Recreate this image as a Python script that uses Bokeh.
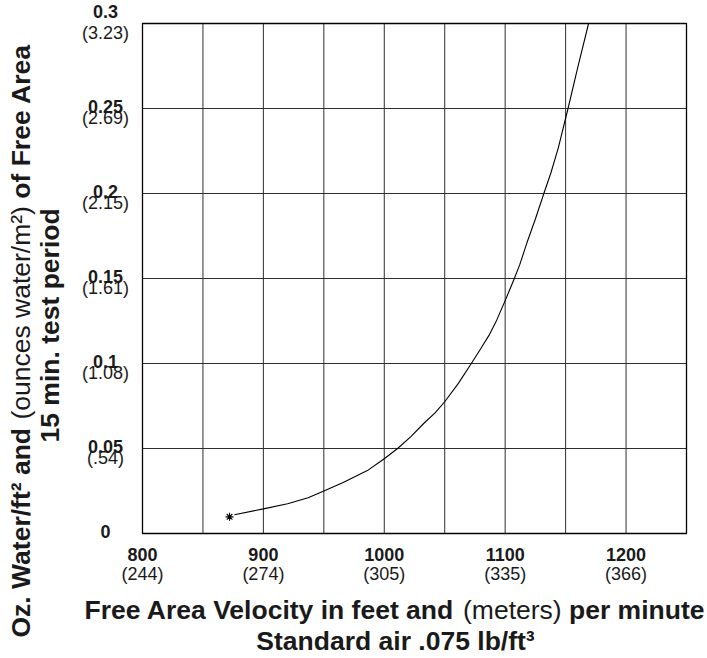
import math
from bokeh.plotting import figure
from bokeh.models import Range1d
from bokeh.core.properties import value
from bokeh.embed import file_html
from bokeh.resources import INLINE

# ---------------- data ----------------
velocity = [876, 900, 920, 937, 950, 966, 986, 1000, 1011, 1022, 1033, 1042, 1050,
            1061, 1072, 1080, 1087, 1093, 1100, 1107, 1112, 1118, 1125, 1132, 1138,
            1144, 1152, 1160, 1169]
water = [0.011, 0.0145, 0.0175, 0.021, 0.025, 0.030, 0.037, 0.044, 0.050, 0.057,
         0.065, 0.071, 0.0775, 0.088, 0.100, 0.109, 0.117, 0.1255, 0.137, 0.149,
         0.158, 0.171, 0.185, 0.200, 0.2125, 0.227, 0.250, 0.274, 0.300]
start_velocity = [872]
start_water = [0.0098]

x_ticks = [800, 900, 1000, 1100, 1200]
x_tick_labels = ["800", "900", "1000", "1100", "1200"]
x_tick_metric = ["(244)", "(274)", "(305)", "(335)", "(366)"]
x_grid = [850, 900, 950, 1000, 1050, 1100, 1150, 1200]
y_ticks = [0, 0.05, 0.1, 0.15, 0.2, 0.25, 0.3]
y_tick_labels = ["0", "0.05", "0.1", "0.15", "0.2", "0.25", "0.3"]
y_tick_metric = ["", "(.54)", "(1.08)", "(1.61)", "(2.15)", "(2.69)", "(3.23)"]

X_MIN, X_MAX = 800, 1250
Y_MIN, Y_MAX = 0.0, 0.3

# ---------------- layout / style ----------------
FONT = "Liberation Sans"
INK = "#1a1a1a"
GRID = "#2e2e2e"
W, H = 707, 658
PX_L, PX_R, PX_T, PX_B = 142, 686, 23, 533      # chart box in canvas pixels
TICK_PX = 18
TITLE_PX = 26.5
BASE_SHIFT = 0.3465   # em distance between the glyph anchor and the text baseline

kx = (PX_R - PX_L) / (X_MAX - X_MIN)
ky = (PX_B - PX_T) / (Y_MAX - Y_MIN)


def X(px):
    return X_MIN + (px - PX_L) / kx


def Y(py):
    return Y_MIN + (PX_B - py) / ky


# Arial / Liberation Sans advance widths (1/1000 em)
BOLD_W = {" ": 278, ".": 278, "/": 278, "(": 333, ")": 333, "²": 333, "³": 333,
          "A": 722, "F": 611, "O": 778, "S": 667, "V": 667, "W": 944,
          "a": 556, "c": 556, "d": 611, "e": 556, "f": 333, "i": 278, "l": 278,
          "m": 889, "n": 611, "o": 611, "p": 611, "r": 389, "s": 556, "t": 333,
          "u": 611, "w": 778, "y": 556, "z": 500}
REG_W = {" ": 278, "(": 333, ")": 333, "/": 278, "²": 333, "a": 556, "c": 500,
         "e": 556, "m": 833, "n": 556, "o": 556, "r": 333, "s": 500, "t": 278,
         "u": 556, "w": 722}


def tw(s, bold, size=TITLE_PX):
    table = BOLD_W if bold else REG_W
    return sum(table.get(ch, 556) for ch in s) * size / 1000.0


p = figure(width=W, height=H,
           x_range=Range1d(X(0), X(W)), y_range=Range1d(Y(H), Y(0)),
           x_axis_location=None, y_axis_location=None,
           output_backend="svg", toolbar_location=None,
           min_border=0, min_border_left=0, min_border_right=0,
           min_border_top=0, min_border_bottom=0)
p.outline_line_color = None
p.background_fill_color = "white"
p.border_fill_color = "white"
for g in p.grid:
    g.visible = False

# grid lines
p.segment(x0=x_grid, y0=[Y_MIN] * len(x_grid), x1=x_grid, y1=[Y_MAX] * len(x_grid),
          line_color=GRID, line_width=1)
p.segment(x0=[X_MIN] * len(y_ticks), y0=y_ticks, x1=[X_MAX] * len(y_ticks), y1=y_ticks,
          line_color=GRID, line_width=1)
# chart box
p.quad(left=[X_MIN], right=[X_MAX], bottom=[Y_MIN], top=[Y_MAX],
       fill_color=None, line_color="black", line_width=1.3)

# curve and start marker
p.line(velocity, water, line_color="black", line_width=1.1)
p.scatter(start_velocity, start_water, marker="asterisk", size=8,
          line_color="black", line_width=1.1)

common = dict(text_font=value(FONT), text_color=INK, text_baseline="alphabetic")
tick_shift = BASE_SHIFT * TICK_PX
title_shift = BASE_SHIFT * TITLE_PX

# x tick labels: bold feet value, metric value below
p.text(x=x_ticks, y=[Y(560 - tick_shift)] * len(x_ticks), text=x_tick_labels,
       text_align="center", text_font_style="bold", text_font_size=f"{TICK_PX}px", **common)
p.text(x=x_ticks, y=[Y(579.5 - tick_shift)] * len(x_ticks), text=x_tick_metric,
       text_align="center", text_font_style="normal", text_font_size=f"{TICK_PX}px", **common)

# y tick labels: bold value centred in the left margin, metric value below it
ycol = [X(105)] * len(y_ticks)
bold_y = [v + ((5.3 if v == Y_MAX else -4.3) + tick_shift) / ky for v in y_ticks]
metric_y = [v + (-16 + tick_shift) / ky for v in y_ticks]
p.text(x=ycol, y=bold_y, text=y_tick_labels, text_align="center",
       text_font_style="bold", text_font_size=f"{TICK_PX}px", **common)
p.text(x=ycol, y=metric_y, text=y_tick_metric, text_align="center",
       text_font_style="normal", text_font_size=f"{TICK_PX}px", **common)

# x title, line 1 with mixed weights (centred), line 2 bold
space_b = tw(" ", True)
xt_segments = [("Free Area Velocity in feet and", True), ("(meters)", False), ("per minute", True)]
total = sum(tw(s, b) for s, b in xt_segments) + space_b * (len(xt_segments) - 1)
pos = 394 - total / 2
for s, b in xt_segments:
    p.text(x=[X(pos)], y=[Y(618.3 - title_shift)], text=[s], text_align="left",
           text_font_style="bold" if b else "normal",
           text_font_size=f"{TITLE_PX}px", **common)
    pos += tw(s, b) + space_b
p.text(x=[X(395)], y=[Y(649.3 - title_shift)], text=["Standard air .075 lb/ft³"],
       text_align="center", text_font_style="bold", text_font_size=f"{TITLE_PX}px", **common)

# y title (rotated), line 1 with mixed weights, line 2 bold
yt_segments = [("Oz. Water/ft² and", True), ("(ounces water/m²)", False), ("of Free Area", True)]
pos = 637
for s, b in yt_segments:
    p.text(x=[X(30 - title_shift)], y=[Y(pos)], text=[s], angle=math.pi / 2,
           text_align="left", text_font_style="bold" if b else "normal",
           text_font_size=f"{TITLE_PX}px", **common)
    pos -= tw(s, b) + space_b
p.text(x=[X(58.3 - title_shift)], y=[Y(442)], text=["15 min. test period"], angle=math.pi / 2,
       text_align="left", text_font_style="bold", text_font_size=f"{TITLE_PX}px", **common)

open("out.html", "w").write(file_html(p, INLINE))
